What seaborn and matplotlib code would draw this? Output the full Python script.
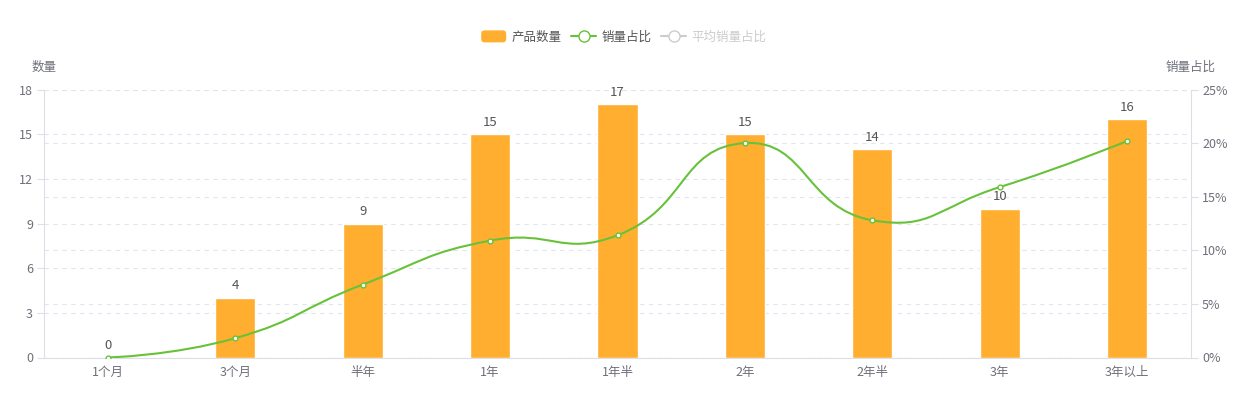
import matplotlib
matplotlib.use("Agg")
import matplotlib.pyplot as plt
import matplotlib.patches as mpatches
from matplotlib.lines import Line2D
from matplotlib.legend_handler import HandlerPatch
from matplotlib.path import Path
from matplotlib.ticker import FuncFormatter, FixedLocator
import numpy as np
import seaborn as sns

categories = ["1个月", "3个月", "半年", "1年", "1年半", "2年", "2年半", "3年", "3年以上"]
counts = [0, 4, 9, 15, 17, 15, 14, 10, 16]
sales_ratio = [0, 1.8, 6.8, 10.9, 11.4, 20.0, 12.8, 15.9, 20.2]
legend_labels = ["产品数量", "销量占比", "平均销量占比"]

BAR_COLOR = "#FFAE2F"
LINE_COLOR = "#67C23A"
AXIS_COLOR = "#DCDFE6"
GRID_COLOR = "#E0E6F1"
LABEL_COLOR = "#6E7079"
TEXT_COLOR = "#555555"

sns.set_theme(style="white")
plt.rcParams["font.family"] = ["Noto Sans CJK SC", "DejaVu Sans"]
plt.rcParams["axes.unicode_minus"] = False

fig = plt.figure(figsize=(12.48, 3.95), dpi=100)
rect = [44 / 1248, 37.5 / 395, 1147 / 1248, 268 / 395]
ax = fig.add_axes(rect)
ax_bg = ax.twinx()
ax2 = ax.twinx()
ax_bg.set_zorder(0)
ax.set_zorder(1)
ax2.set_zorder(2)
ax.patch.set_visible(False)
ax2.patch.set_visible(False)

# bars
sns.barplot(x=categories, y=counts, color=BAR_COLOR, saturation=1, width=0.314, ax=ax)
ax.bar_label(ax.containers[0], padding=4, fontsize=9.5, color=TEXT_COLOR)
ax.set_xlim(-0.5, len(categories) - 0.5)
ax.set_ylim(0, 18)
ax.set_yticks(range(0, 19, 3))
ax.set_xlabel("")
ax.set_ylabel("")
ax.set_axisbelow(True)
ax.yaxis.grid(True, color=GRID_COLOR, linestyle=(0, (4, 4)), linewidth=0.8)
ax.xaxis.set_minor_locator(FixedLocator(np.arange(-0.5, len(categories), 1.0)))
ax.tick_params(axis="x", which="major", length=0, labelsize=9, labelcolor=LABEL_COLOR, pad=6)
ax.tick_params(axis="x", which="minor", length=5, color=AXIS_COLOR, width=0.8, direction="out")
ax.tick_params(axis="y", length=5, color=AXIS_COLOR, width=0.8, labelsize=9, labelcolor=LABEL_COLOR, pad=3)
for side in ["top", "right"]:
    ax.spines[side].set_visible(False)
for side in ["left", "bottom"]:
    ax.spines[side].set_color(AXIS_COLOR)
    ax.spines[side].set_linewidth(0.8)

# right-scale grid behind bars
ax_bg.set_ylim(0, 25)
ax_bg.set_yticks(range(0, 26, 5))
ax_bg.yaxis.grid(True, color=GRID_COLOR, linestyle=(0, (4, 4)), linewidth=0.8)
ax_bg.tick_params(axis="y", length=0, labelright=False)
for s in ax_bg.spines.values():
    s.set_visible(False)

# line
xpos = np.arange(len(categories))
ax2.set_ylim(0, 25)
ax2.set_yticks(range(0, 26, 5))
ax2.yaxis.set_major_formatter(FuncFormatter(lambda v, p: f"{v:.0f}%"))
ax2.tick_params(axis="y", length=5, color=AXIS_COLOR, width=0.8, labelsize=9, labelcolor=LABEL_COLOR, pad=3)
ax2.grid(False)
for side in ["top", "left", "bottom"]:
    ax2.spines[side].set_visible(False)
ax2.spines["right"].set_color(AXIS_COLOR)
ax2.spines["right"].set_linewidth(0.8)

# smooth curve (echarts-style bezier) computed in display space
pts = ax2.transData.transform(np.column_stack([xpos, sales_ratio]))
smooth = 0.5
verts = [tuple(pts[0])]
codes = [Path.MOVETO]
cp_out = pts[0]
n = len(pts)
for i in range(1, n):
    cur = pts[i]
    if i < n - 1:
        prev, nxt = pts[i - 1], pts[i + 1]
        v = nxt - prev
        l0 = np.hypot(*(cur - prev))
        l1 = np.hypot(*(nxt - cur))
        r = l1 / (l0 + l1)
        cp_in = cur - v * smooth * (1 - r)
        new_out = cur + v * smooth * r
    else:
        cp_in = cur
        new_out = cur
    verts += [tuple(cp_out), tuple(cp_in), tuple(cur)]
    codes += [Path.CURVE4] * 3
    cp_out = new_out
inv = ax2.transData.inverted()
path = Path(inv.transform(np.array(verts)), codes)
ax2.add_patch(mpatches.PathPatch(path, facecolor="none", edgecolor=LINE_COLOR, linewidth=1.5, zorder=3))
sns.scatterplot(x=xpos, y=sales_ratio, ax=ax2, color="white", edgecolor=LINE_COLOR,
                linewidth=1.0, s=12, zorder=4, legend=False)
ax2.set_xlim(-0.5, len(categories) - 0.5)

# axis names
fig.text(44 / 1248, 1 - 67 / 395, "数量", ha="center", va="center", fontsize=9, color=LABEL_COLOR)
fig.text(1191 / 1248, 1 - 67 / 395, "销量占比", ha="center", va="center", fontsize=9, color=LABEL_COLOR)


# legend
class RoundRectHandler(HandlerPatch):
    def create_artists(self, legend, orig_handle, xdescent, ydescent, width, height, fontsize, trans):
        p = mpatches.FancyBboxPatch((-xdescent, -ydescent), width, height,
                                    boxstyle="round,pad=0,rounding_size=2.5",
                                    facecolor=orig_handle.get_facecolor(), edgecolor="none")
        p.set_transform(trans)
        return [p]


h_bar = mpatches.Patch(color=BAR_COLOR)
h_line = Line2D([], [], color=LINE_COLOR, linewidth=1.5, marker="o", markersize=8,
                markerfacecolor="white", markeredgecolor=LINE_COLOR, markeredgewidth=1)
h_avg = Line2D([], [], color="#CCCCCC", linewidth=1.5, marker="o", markersize=8,
               markerfacecolor="white", markeredgecolor="#CCCCCC", markeredgewidth=1)
leg = fig.legend([h_bar, h_line, h_avg], legend_labels, loc="center",
                 bbox_to_anchor=(0.5, 1 - 37 / 395), ncol=3, frameon=False, fontsize=9,
                 handlelength=2.0, handleheight=1.1, handletextpad=0.45, columnspacing=0.75,
                 handler_map={mpatches.Patch: RoundRectHandler()})
texts = leg.get_texts()
for t in texts[:2]:
    t.set_color(TEXT_COLOR)
texts[2].set_color("#CCCCCC")

fig.savefig("out.png", dpi=100)
